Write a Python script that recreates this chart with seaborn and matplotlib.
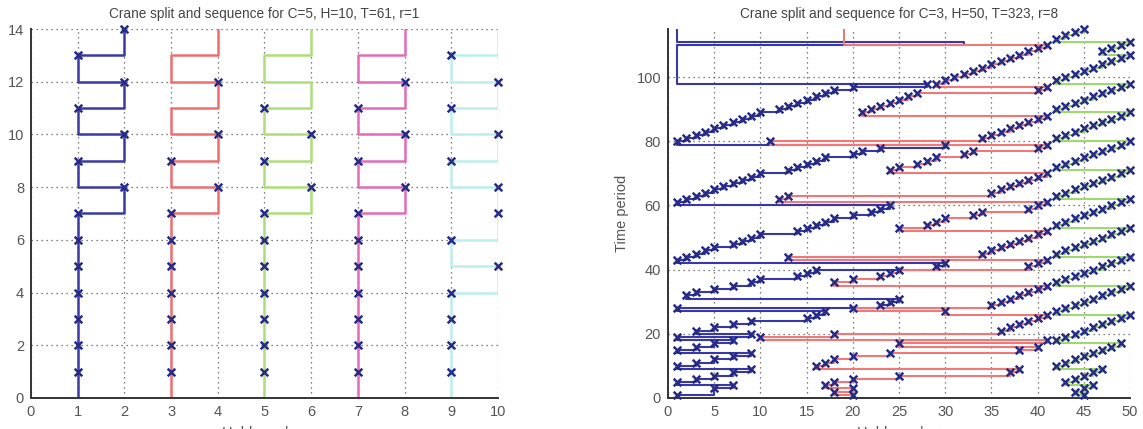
import matplotlib
matplotlib.use("Agg")
import matplotlib.pyplot as plt
import seaborn as sns

# ---- left panel: C=5, H=10 (hold of each crane per time period) ----
L_TIME = [0, 1, 2, 3, 4, 5, 6, 7, 8, 9, 10, 11, 12, 13, 14]
L_BLUE = [1, 1, 1, 1, 1, 1, 1, 1, 2, 1, 2, 1, 2, 1, 2]
L_RED = [3, 3, 3, 3, 3, 3, 3, 3, 4, 3, 4, 3, 4, 3, 4]
L_GREEN = [5, 5, 5, 5, 5, 5, 5, 5, 6, 5, 6, 5, 6, 5, 6]
L_MAGENTA = [7, 7, 7, 7, 7, 7, 7, 7, 8, 7, 8, 7, 8, 7, 8]
L_CYAN = [9, 9, 9, 9, 9, 10, 9, 10, 10, 9, 10, 9, 10, 9, 10]
# 1 = crane works in that period (marker), 0 = idle / moving
L_BLUE_WORK = [0, 1, 1, 1, 1, 1, 1, 1, 1, 1, 1, 1, 1, 1, 1]
L_RED_WORK = [0, 1, 1, 1, 1, 1, 1, 1, 1, 1, 1, 0, 1, 0, 0]
L_GREEN_WORK = [0, 1, 1, 1, 1, 1, 1, 1, 1, 1, 1, 1, 0, 0, 0]
L_MAGENTA_WORK = [0, 1, 1, 1, 1, 1, 1, 1, 1, 1, 1, 1, 1, 0, 0]
L_CYAN_WORK = [0, 1, 1, 1, 1, 1, 1, 1, 1, 1, 1, 1, 1, 1, 0]

# ---- right panel: C=3, H=50 (work points hold/time per crane) ----
R_BLUE_H = [1, 5, 7, 1, 3, 5, 7, 9, 1, 3, 5, 7, 9, 1, 3, 5, 7, 1, 9,
            3, 5, 7, 9, 15, 16, 17, 1, 23, 24, 25,
            2, 3, 5, 7, 9, 10, 14, 15, 16, 29, 30,
            1, 2, 3, 4, 5, 7, 8, 9, 10, 14, 15, 16, 17, 18, 20, 22, 23, 24,
            1, 2, 3, 4, 5, 6, 7, 8, 9, 10, 13, 14, 15, 16, 17, 20, 21, 23, 30,
            1, 2, 3, 4, 5, 6, 7, 8, 9, 10, 12, 13, 14, 15, 16, 17, 18, 20, 28]
R_BLUE_T = [1, 3, 4, 5, 6, 7, 8, 9, 10, 11, 12, 13, 14, 15, 16, 17, 18, 19, 20,
            21, 22, 23, 24, 25, 26, 27, 28, 29, 30, 31,
            32, 33, 34, 35, 36, 37, 38, 39, 40, 41, 42,
            43, 44, 45, 46, 47, 48, 49, 50, 51, 52, 53, 54, 55, 56, 57, 58, 59, 60,
            61, 62, 63, 64, 65, 66, 67, 68, 69, 70, 71, 72, 73, 74, 75, 76, 77, 78, 79,
            80, 81, 82, 83, 84, 85, 86, 87, 88, 89, 90, 91, 92, 93, 94, 95, 96, 97, 98]
R_BLUE_START = ([1], [0])
R_BLUE_END = ([1, 32, 1], [110, 111, 115])

R_RED_H = [20, 18, 20, 17, 18, 20, 25, 37, 38, 16, 17, 18, 20, 24, 38, 40, 25, 41, 10, 18,
           36, 37, 38, 39, 40, 41, 30, 20, 35, 36, 37, 38, 39, 40, 41,
           18, 20, 23, 24, 25, 39, 40, 41, 13, 34, 35, 36, 37, 38, 39, 40, 41,
           25, 28, 29, 30, 33, 34, 39, 40, 41, 12, 13, 35, 36, 37, 38, 39, 40, 41,
           24, 25, 27, 28, 29, 32, 33, 40, 41, 11, 34, 35, 36, 37, 38, 39, 40, 41,
           21, 22, 23, 24, 25, 26, 27, 40, 41,
           29, 30, 31, 32, 33, 34, 35, 36, 37, 38, 39, 40, 41]
R_RED_T = [1, 2, 3, 4, 5, 6, 7, 8, 9, 10, 11, 12, 13, 14, 15, 16, 17, 18, 19, 20,
           21, 22, 23, 24, 25, 26, 27, 28, 29, 30, 31, 32, 33, 34, 35,
           36, 37, 38, 39, 40, 41, 42, 43, 44, 45, 46, 47, 48, 49, 50, 51, 52,
           53, 54, 55, 56, 57, 58, 59, 60, 61, 62, 63, 64, 65, 66, 67, 68, 69, 70,
           71, 72, 73, 74, 75, 76, 77, 78, 79, 80, 81, 82, 83, 84, 85, 86, 87, 88,
           89, 90, 91, 92, 93, 94, 95, 96, 97,
           98, 99, 100, 101, 102, 103, 104, 105, 106, 107, 108, 109, 110]
R_RED_START = ([20], [0])
R_RED_END = ([19, 19], [111, 115])

R_GREEN_H = [45, 44, 45, 46, 43, 44, 45, 46, 47,
             42, 43, 44, 45, 46, 47, 48, 49,
             42, 43, 44, 45, 46, 47, 48, 49, 50,
             42, 43, 44, 45, 46, 47, 48, 49, 50,
             42, 43, 44, 45, 46, 47, 48, 49, 50,
             42, 43, 44, 45, 46, 47, 48, 49, 50,
             42, 43, 44, 45, 46, 47, 48, 49, 50,
             42, 43, 44, 45, 46, 47, 48, 49, 50,
             42, 43, 44, 45, 46, 47, 48, 49, 50,
             42, 43, 44, 45, 46, 47, 48, 49, 50,
             42, 43, 44, 45, 46, 47, 48, 49, 50,
             42, 43, 44, 45, 46, 47, 48, 49, 50,
             47, 48, 49, 50, 42, 43, 44, 45]
R_GREEN_T = [1, 2, 3, 4, 5, 6, 7, 8, 9,
             10, 11, 12, 13, 14, 15, 16, 17,
             18, 19, 20, 21, 22, 23, 24, 25, 26,
             27, 28, 29, 30, 31, 32, 33, 34, 35,
             36, 37, 38, 39, 40, 41, 42, 43, 44,
             45, 46, 47, 48, 49, 50, 51, 52, 53,
             54, 55, 56, 57, 58, 59, 60, 61, 62,
             63, 64, 65, 66, 67, 68, 69, 70, 71,
             72, 73, 74, 75, 76, 77, 78, 79, 80,
             81, 82, 83, 84, 85, 86, 87, 88, 89,
             90, 91, 92, 93, 94, 95, 96, 97, 98,
             99, 100, 101, 102, 103, 104, 105, 106, 107,
             108, 109, 110, 111, 112, 113, 114, 115]
R_GREEN_START = ([45], [0])
R_GREEN_END = ([], [])

MARK = "#262c86"


def staircase(holds, times):
    # horizontal move at time t, then vertical up to the next period
    xs, ys = [], []
    for i in range(len(holds)):
        xs.append(holds[i])
        ys.append(times[i])
        if i + 1 < len(holds):
            xs.append(holds[i + 1])
            ys.append(times[i])
    return xs, ys


def draw_crane(ax, holds, times, work, color, lw=1.6, ms=28):
    xs, ys = staircase(holds, times)
    sns.lineplot(x=xs, y=ys, sort=False, estimator=None, color=color, lw=lw, ax=ax)
    mh = [h for h, w in zip(holds, work) if w]
    mt = [t for t, w in zip(times, work) if w]
    sns.scatterplot(x=mh, y=mt, marker="x", color=MARK, s=ms, linewidth=1.8,
                    ax=ax, zorder=4, clip_on=False)


def style_axes(ax, title, xticks, yticks, xlim, ylim):
    ax.set_xlim(*xlim)
    ax.set_ylim(*ylim)
    ax.set_xticks(xticks)
    ax.set_yticks(yticks)
    ax.grid(True, linestyle=(0, (1, 3)), color="#555555", linewidth=0.9)
    ax.set_axisbelow(True)
    for s in ["top", "right"]:
        ax.spines[s].set_visible(False)
    for s in ["left", "bottom"]:
        ax.spines[s].set_color("#333333")
        ax.spines[s].set_linewidth(1.4)
    ax.tick_params(direction="in", length=4, width=1, colors="#333333",
                   labelsize=10.5, labelcolor="#555555", pad=5)
    ax.set_title(title, fontsize=9.8, color="#444444", pad=8)
    ax.set_xlabel("Hold number", fontsize=10.5, color="#555555", labelpad=5)
    ax.set_ylabel("Time period", fontsize=10.5, color="#555555", labelpad=5)


sns.set_style("white")
plt.rcParams["font.family"] = ["Liberation Sans", "DejaVu Sans"]

fig = plt.figure(figsize=(11.43, 4.29), dpi=100)
ax1 = fig.add_axes([0.0271, 0.0723, 0.4086, 0.8601])
ax2 = fig.add_axes([0.5844, 0.0723, 0.4042, 0.8601])

# left panel
left = [
    (L_BLUE, L_BLUE_WORK, "#3a3aa6"),
    (L_RED, L_RED_WORK, "#ee6e6e"),
    (L_GREEN, L_GREEN_WORK, "#aedd7c"),
    (L_MAGENTA, L_MAGENTA_WORK, "#e26cba"),
    (L_CYAN, L_CYAN_WORK, "#bdeeee"),
]
for holds, work, color in left:
    draw_crane(ax1, holds, L_TIME, work, color, lw=1.8, ms=30)

style_axes(ax1, "Crane split and sequence for C=5, H=10, T=61, r=1",
           [0, 1, 2, 3, 4, 5, 6, 7, 8, 9, 10], [0, 2, 4, 6, 8, 10, 12, 14],
           (0, 10), (0, 14))

# right panel
right = [
    (R_BLUE_H, R_BLUE_T, R_BLUE_START, R_BLUE_END, "#3838a8"),
    (R_RED_H, R_RED_T, R_RED_START, R_RED_END, "#f07878"),
    (R_GREEN_H, R_GREEN_T, R_GREEN_START, R_GREEN_END, "#9fd96e"),
]
for hs, ts, start, end, color in right:
    holds = start[0] + hs + end[0]
    times = start[1] + ts + end[1]
    work = [0] * len(start[0]) + [1] * len(hs) + [0] * len(end[0])
    draw_crane(ax2, holds, times, work, color, lw=1.5, ms=30)

style_axes(ax2, "Crane split and sequence for C=3, H=50, T=323, r=8",
           [0, 5, 10, 15, 20, 25, 30, 35, 40, 45, 50], [0, 20, 40, 60, 80, 100],
           (0, 50), (0, 115))

fig.savefig("out.png", dpi=100)
